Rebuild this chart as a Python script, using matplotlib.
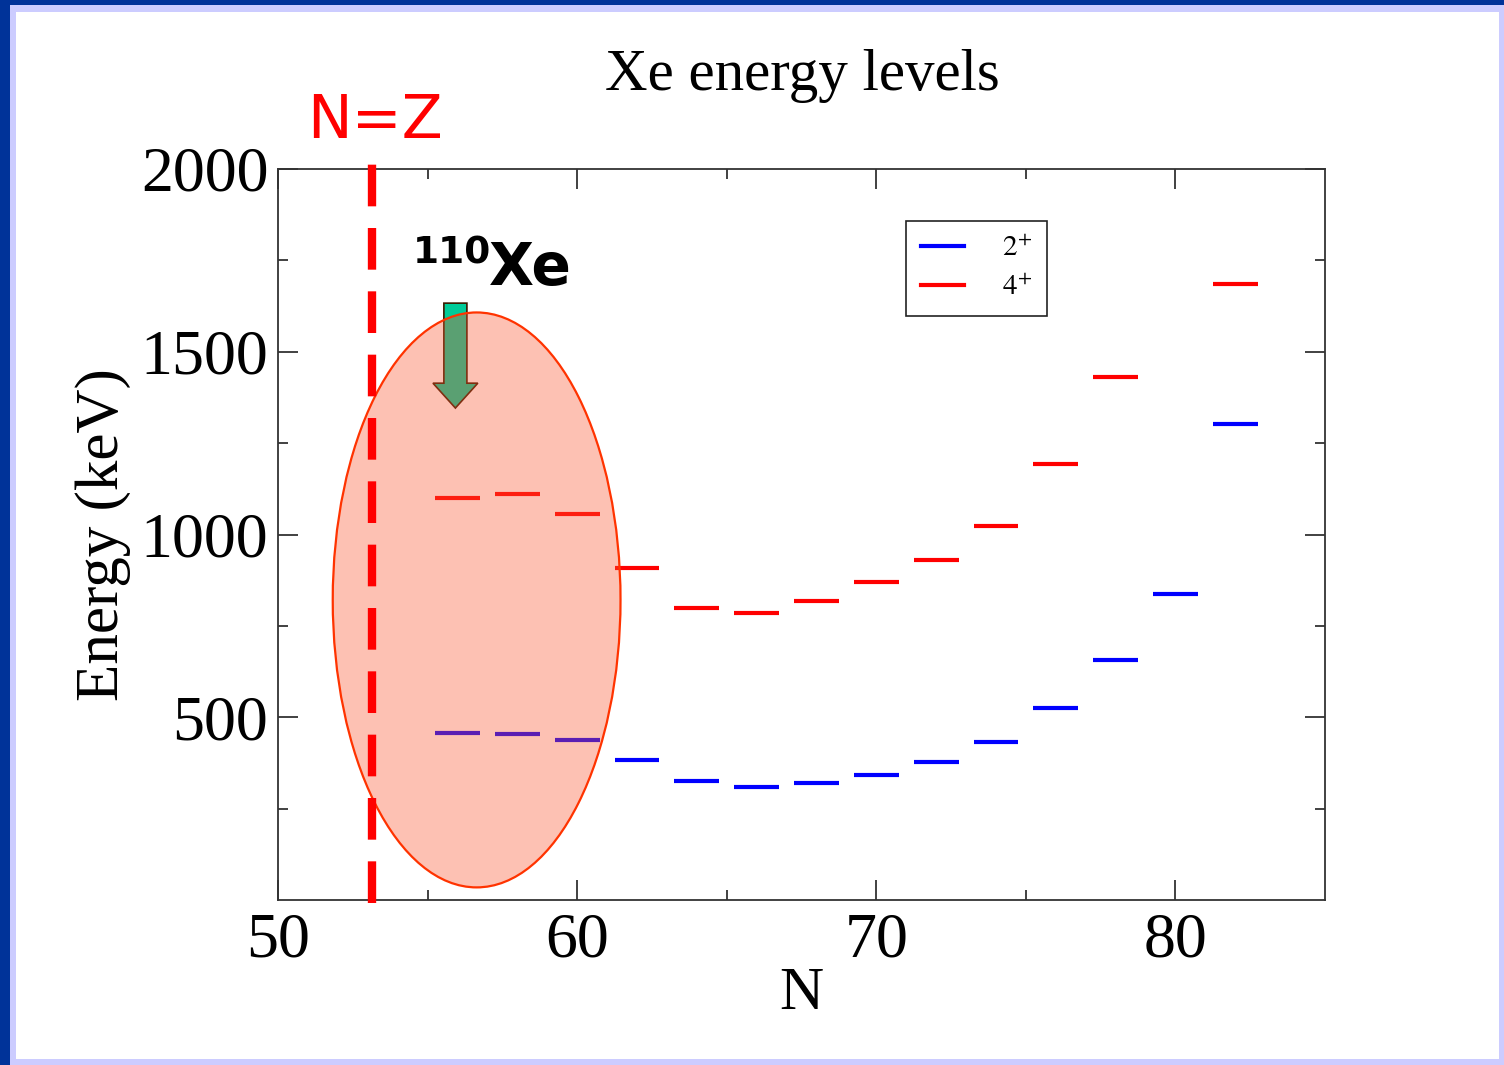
import numpy as np
import matplotlib
matplotlib.use("Agg")
from matplotlib import pyplot as plt
from matplotlib.patches import Ellipse, FancyArrow, Rectangle
from matplotlib.lines import Line2D
from matplotlib.ticker import FixedLocator

plt.rcParams['font.family'] = ['Liberation Serif', 'DejaVu Serif']
plt.rcParams['mathtext.fontset'] = 'stix'

# Xe yrast levels (keV) vs neutron number ==============================================
N_2plus = [56, 58, 60, 62, 64, 66, 68, 70, 72, 74, 76, 78, 80, 82]
E_2plus = [457, 454, 438, 382, 326, 310, 319, 341, 377, 431, 524, 657, 837, 1302]

N_4plus = [56, 58, 60, 62, 64, 66, 68, 70, 72, 74, 76, 78, 82]
E_4plus = [1101, 1111, 1057, 907, 800, 785, 818, 869, 930, 1022, 1194, 1432, 1685]

N_eq_Z = 53.15          # where the N=Z line is drawn
xe110_N = 55.93         # arrow pointing at 110Xe
half_w = 0.75           # half width of a level bar

fig = plt.figure(figsize=(15.04, 10.65), dpi=100)
fig.patch.set_facecolor('#CCCCFF')

# slide frame: white page, dark blue edge on top and left
fig.patches.append(Rectangle((16/1504, 6/1065), (1499-16)/1504, (1053-6)/1065,
                             transform=fig.transFigure, fc='white', ec='none', zorder=-10))
fig.patches.append(Rectangle((0, 0), 10/1504, 1, transform=fig.transFigure,
                             fc='#003399', ec='none', zorder=-9))
fig.patches.append(Rectangle((0, 1 - 5/1065), 1, 5/1065, transform=fig.transFigure,
                             fc='#003399', ec='none', zorder=-9))

ax = fig.add_axes([278/1504, 165/1065, 1047/1504, 731/1065])
ax.set_facecolor('none')

N2 = np.array(N_2plus)
N4 = np.array(N_4plus)
ax.hlines(E_2plus, N2 - half_w, N2 + half_w, colors='#0000FF', lw=3, zorder=2)
ax.hlines(E_4plus, N4 - half_w, N4 + half_w, colors='#FF0000', lw=3, zorder=2)

# arrow sits under the translucent ellipse
ax.add_patch(FancyArrow(xe110_N, 1633, 0, -287, width=0.77, head_width=1.5,
                        head_length=68, length_includes_head=True,
                        fc='#00CC99', ec='#3A1A00', lw=1.2, zorder=3))

ax.add_patch(Ellipse((56.64, 821), 9.62, 1573, fc=(0.99, 0.33, 0.18, 0.36),
                     ec='#FF3300', lw=1.6, zorder=4))

ax.plot([N_eq_Z, N_eq_Z], [-8, 2025], color='#FF0000', lw=6,
        dashes=(5, 2.6), clip_on=False, zorder=5)

ax.set_xlim(50, 85)
ax.set_ylim(0, 2000)
ax.xaxis.set_major_locator(FixedLocator([50, 60, 70, 80]))
ax.xaxis.set_minor_locator(FixedLocator([55, 65, 75]))
ax.yaxis.set_major_locator(FixedLocator([500, 1000, 1500, 2000]))
ax.yaxis.set_minor_locator(FixedLocator([250, 750, 1250, 1750]))
ax.tick_params(which='both', direction='in', top=True, right=True,
               width=1.3, color='#333333')
ax.tick_params(which='major', length=14.5, labelsize=46)
ax.tick_params(which='minor', length=7.5)
ax.tick_params(axis='x', pad=9)
ax.tick_params(axis='y', pad=7)
for s in ax.spines.values():
    s.set_linewidth(1.3)
    s.set_color('#333333')

ax.set_xlabel('N', fontsize=44, labelpad=-3)
ax.set_ylabel('Energy (keV)', fontsize=44, labelpad=7)

handles = [Line2D([], [], color='#0000FF', lw=3), Line2D([], [], color='#FF0000', lw=3)]
leg = ax.legend(handles, ['$2^{+}$', '$4^{+}$'], loc='upper left',
                bbox_to_anchor=(0.5998, 0.9289), borderaxespad=0, fontsize=21,
                handlelength=1.5, handletextpad=1.3, labelspacing=0.45,
                borderpad=0.5, fancybox=False, framealpha=1, edgecolor='#222222')
leg.get_frame().set_linewidth(1.2)

fig.text(802/1504, 1 - 90/1065, 'Xe energy levels', fontsize=42.5, ha='center', va='baseline')
fig.text(375/1504, 1 - 138/1065, 'N=Z', fontsize=43, color='#FF0000', ha='center',
         va='baseline', family='DejaVu Sans')
fig.text(413/1504, 1 - 264/1065, '110', fontsize=27, fontweight='bold',
         ha='left', va='baseline', family='DejaVu Sans')
fig.text(489/1504, 1 - 285/1065, 'Xe', fontsize=42, fontweight='bold',
         ha='left', va='baseline', family='DejaVu Sans')

fig.savefig('out.png', dpi=100, facecolor=fig.get_facecolor())
